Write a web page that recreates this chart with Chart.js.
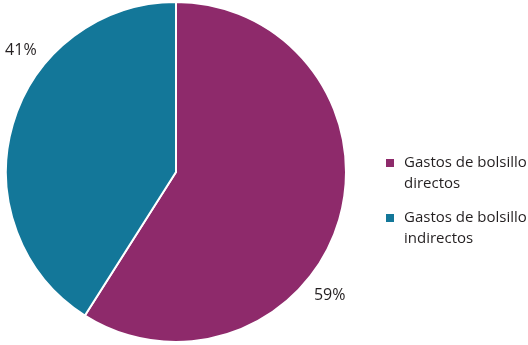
<!DOCTYPE html>
<html>
<head>
<meta charset="utf-8">
<script src="https://cdn.jsdelivr.net/npm/chart.js@4"></script>
<style>
  html, body { margin: 0; padding: 0; background: #fff; }
  #wrap { width: 528px; height: 345px; position: relative; }
</style>
</head>
<body>
<div id="wrap"><canvas id="pieChart"></canvas></div>
<script>
const categories = ["Gastos de bolsillo directos", "Gastos de bolsillo indirectos"];
const legendLines = [["Gastos de bolsillo", "directos"], ["Gastos de bolsillo", "indirectos"]];
const shares = [59, 41];
const sliceColors = ["#8e2a6b", "#137799"];

const FONT = "'Open Sans', sans-serif";
const labelFrac = [0.606, 0.648];

/* ===============================
   PERCENT LABELS OUTSIDE SLICES
   =============================== */
const percentLabels = {
  id: "percentLabels",
  afterDatasetsDraw(chart) {
    const { ctx } = chart;
    const meta = chart.getDatasetMeta(0);
    ctx.save();
    ctx.font = "16px " + FONT;
    ctx.fillStyle = "#231f20";
    ctx.textAlign = "center";
    ctx.textBaseline = "middle";
    meta.data.forEach((arc, i) => {
      const a = arc.startAngle + (arc.endAngle - arc.startAngle) * labelFrac[i];
      const r = arc.outerRadius + 27;
      ctx.fillText(shares[i] + "%", arc.x + Math.cos(a) * r, arc.y + Math.sin(a) * r);
    });
    ctx.restore();
  }
};

/* ===============================
   SIDE LEGEND
   =============================== */
const sideLegend = {
  id: "sideLegend",
  afterDraw(chart) {
    const { ctx } = chart;
    ctx.save();
    ctx.font = "15px " + FONT;
    ctx.textBaseline = "middle";
    legendLines.forEach((lines, i) => {
      const top = 163 + i * 55;
      ctx.fillStyle = sliceColors[i];
      ctx.fillRect(386, top - 4, 8, 8);
      ctx.fillStyle = "#231f20";
      lines.forEach((t, j) => ctx.fillText(t, 404, top + j * 21));
    });
    ctx.restore();
  }
};

new Chart(document.getElementById("pieChart"), {
  type: "pie",
  data: {
    labels: categories,
    datasets: [{
      data: shares,
      backgroundColor: sliceColors,
      borderColor: "#ffffff",
      borderWidth: 2
    }]
  },
  options: {
    responsive: true,
    maintainAspectRatio: false,
    animation: false,
    layout: { padding: { left: 5, right: 181, top: 1, bottom: 2 } },
    plugins: {
      legend: { display: false },
      tooltip: { enabled: false }
    }
  },
  plugins: [percentLabels, sideLegend]
});
</script>
</body>
</html>
